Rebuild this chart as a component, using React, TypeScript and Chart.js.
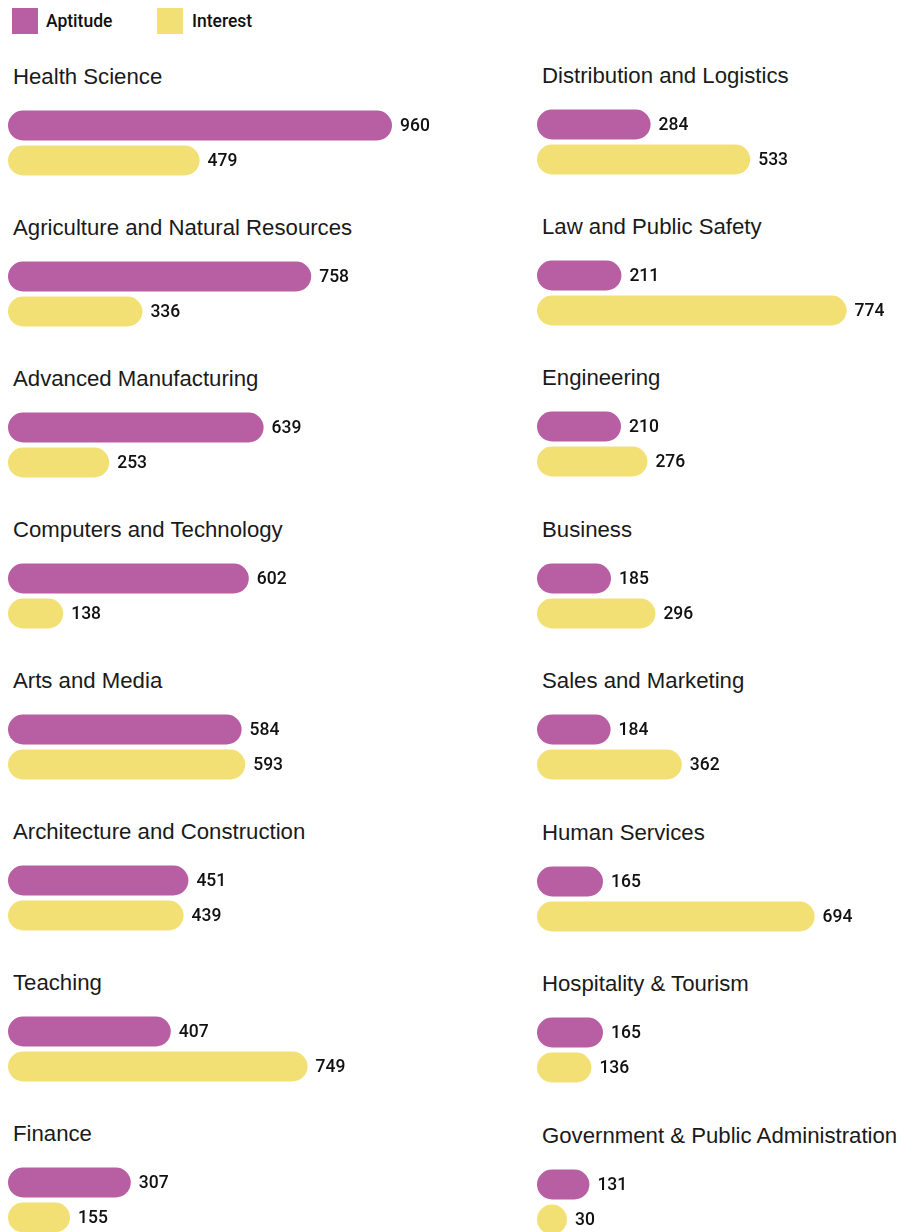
import React, { useEffect, useRef } from "react";
import { Chart, registerables } from "chart.js";

Chart.register(...registerables);

const seriesNames = ["Aptitude", "Interest"];
const seriesColors = ["#B85EA3", "#F3E075"];

const leftCategories = [
  "Health Science",
  "Agriculture and Natural Resources",
  "Advanced Manufacturing",
  "Computers and Technology",
  "Arts and Media",
  "Architecture and Construction",
  "Teaching",
  "Finance",
];
const leftAptitude = [960, 758, 639, 602, 584, 451, 407, 307];
const leftInterest = [479, 336, 253, 138, 593, 439, 749, 155];

const rightCategories = [
  "Distribution and Logistics",
  "Law and Public Safety",
  "Engineering",
  "Business",
  "Sales and Marketing",
  "Human Services",
  "Hospitality & Tourism",
  "Government & Public Administration",
];
const rightAptitude = [284, 211, 210, 185, 184, 165, 165, 131];
const rightInterest = [533, 774, 276, 296, 362, 694, 136, 30];

const PX_PER_UNIT = 0.4;
const TITLE_FONT = '"Liberation Sans", Arial, sans-serif';
const LABEL_FONT = '500 17.5px Roboto, "Liberation Sans", Arial, sans-serif';

const valueLabels = {
  id: "valueLabels",
  afterDatasetsDraw(chart: any) {
    const ctx = chart.ctx;
    ctx.save();
    ctx.font = LABEL_FONT;
    ctx.fillStyle = "#111111";
    ctx.textBaseline = "middle";
    ctx.textAlign = "left";
    chart.data.datasets.forEach((ds: any, di: number) => {
      const meta = chart.getDatasetMeta(di);
      meta.data.forEach((el: any, i: number) => {
        ctx.fillText(String(ds.data[i]), el.x + 8, el.y + 1);
      });
    });
    ctx.restore();
  },
};

function Panel(props: {
  title: string;
  aptitude: number;
  interest: number;
  left: number;
  top: number;
  width: number;
}) {
  const ref = useRef<HTMLCanvasElement>(null);
  const height = 70;
  useEffect(() => {
    if (!ref.current) return;
    const chart = new Chart(ref.current, {
      type: "bar",
      data: {
        labels: [props.title],
        datasets: [
          {
            label: seriesNames[0],
            data: [props.aptitude],
            backgroundColor: seriesColors[0],
          },
          {
            label: seriesNames[1],
            data: [props.interest],
            backgroundColor: seriesColors[1],
          },
        ],
      },
      options: {
        indexAxis: "y",
        animation: false,
        responsive: false,
        maintainAspectRatio: false,
        devicePixelRatio: 1,
        layout: { padding: 0 },
        datasets: {
          bar: {
            categoryPercentage: 1,
            barPercentage: 30 / 35,
            borderRadius: 15,
            borderSkipped: false,
            borderWidth: 0,
            minBarLength: 30,
          },
        },
        scales: {
          x: { display: false, min: 0, max: props.width / PX_PER_UNIT },
          y: { display: false },
        },
        plugins: {
          legend: { display: false },
          tooltip: { enabled: false },
        },
      } as any,
      plugins: [valueLabels],
    });
    return () => chart.destroy();
  }, [props.title, props.aptitude, props.interest, props.width]);

  return (
    <>
      <div
        style={{
          position: "absolute",
          left: props.left + 5,
          top: props.top - 43,
          fontFamily: TITLE_FONT,
          fontSize: 22.2,
          lineHeight: "24px",
          color: "#1a1a1a",
          whiteSpace: "nowrap",
        }}
      >
        {props.title}
      </div>
      <canvas
        ref={ref}
        width={props.width}
        height={height}
        style={{
          position: "absolute",
          left: props.left,
          top: props.top,
          width: props.width,
          height,
        }}
      />
    </>
  );
}

export default function App() {
  return (
    <div
      style={{
        position: "fixed",
        left: 0,
        top: 0,
        width: 918,
        height: 1232,
        overflow: "hidden",
        background: "#ffffff",
      }}
    >
      {seriesNames.map((name, i) => (
        <React.Fragment key={name}>
          <div
            style={{
              position: "absolute",
              left: i === 0 ? 12 : 157,
              top: 8,
              width: 26,
              height: 26,
              background: seriesColors[i],
            }}
          />
          <div
            style={{
              position: "absolute",
              left: i === 0 ? 46 : 192,
              top: 9,
              font: LABEL_FONT,
              lineHeight: "24px",
              color: "#111111",
            }}
          >
            {name}
          </div>
        </React.Fragment>
      ))}
      {leftCategories.map((c, i) => (
        <Panel
          key={c}
          title={c}
          aptitude={leftAptitude[i]}
          interest={leftInterest[i]}
          left={8}
          top={107.5 + 151 * i}
          width={500}
        />
      ))}
      {rightCategories.map((c, i) => (
        <Panel
          key={c}
          title={c}
          aptitude={rightAptitude[i]}
          interest={rightInterest[i]}
          left={537}
          top={106.5 + 151.43 * i}
          width={381}
        />
      ))}
    </div>
  );
}
